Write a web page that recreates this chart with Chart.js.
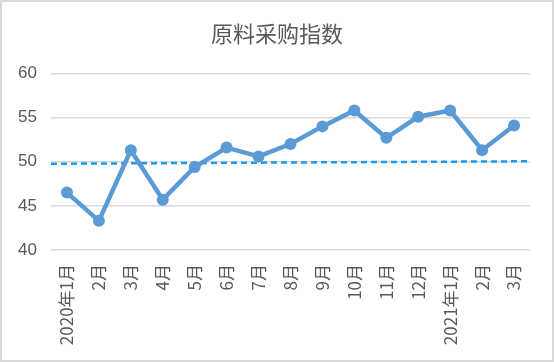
<!DOCTYPE html>
<html><head><meta charset="utf-8">
<script src="https://cdn.jsdelivr.net/npm/chart.js@4"></script>
<style>html,body{margin:0;padding:0;background:#fff}#wrap{width:554px;height:362px;position:relative}</style>
</head><body><div id="wrap"><canvas id="c" width="554" height="362"></canvas></div>
<script>
const categories = ['2020年1月','2月','3月','4月','5月','6月','7月','8月','9月','10月','11月','12月','2021年1月','2月','3月'];
const purchaseIndex = [46.5, 43.3, 51.3, 45.7, 49.4, 51.6, 50.6, 52.0, 54.0, 55.8, 52.7, 55.1, 55.8, 51.3, 54.1];
const trendStart = 49.77;
const trendEnd = 50.05;
const yTicks = [40, 45, 50, 55, 60];

const borderPlugin = {
  id: 'frame',
  afterDraw(chart) {
    const ctx = chart.ctx;
    ctx.save();
    ctx.strokeStyle = '#d9d9d9';
    ctx.lineWidth = 2;
    ctx.strokeRect(1, 1, chart.width - 2, chart.height - 2);
    ctx.restore();
  }
};

new Chart(document.getElementById('c'), {
  type: 'line',
  data: {
    labels: categories,
    datasets: [
      {
        label: '原料采购指数',
        data: purchaseIndex,
        borderColor: '#5b9bd5',
        backgroundColor: '#5b9bd5',
        borderWidth: 4.5,
        pointRadius: 6,
        pointBorderWidth: 0,
        tension: 0,
        order: 1
      },
      {
        label: 'trend',
        xAxisID: 'x2',
        data: [{x: -0.5, y: trendStart}, {x: categories.length - 0.5, y: trendEnd}],
        borderColor: '#1a9af0',
        borderWidth: 2.5,
        borderDash: [6, 4],
        pointRadius: 0,
        order: 2
      }
    ]
  },
  options: {
    responsive: false,
    animation: false,
    layout: {padding: {left: 0, right: 0, top: 0, bottom: 0}},
    plugins: {
      legend: {display: false},
      tooltip: {enabled: false},
      title: {
        display: true,
        text: '原料采购指数',
        color: '#595959',
        font: {family: '"Noto Sans CJK SC"', size: 22, weight: 'normal'},
        padding: {top: 20, bottom: 27}
      }
    },
    scales: {
      x: {
        type: 'category',
        offset: true,
        grid: {display: false},
        border: {display: false},
        ticks: {
          color: '#595959',
          font: {family: '"Noto Sans CJK SC"', size: 17},
          minRotation: 90, maxRotation: 90,
          autoSkip: false,
          padding: 6
        },
        afterFit(scale) { scale.height = 112; }
      },
      x2: {
        type: 'linear',
        display: false,
        min: -0.5,
        max: categories.length - 0.5
      },
      y: {
        min: 40, max: 60,
        afterBuildTicks(scale) { scale.ticks = yTicks.map(v => ({value: v})); },
        grid: {color: '#d9d9d9', lineWidth: 1.5, drawTicks: false},
        border: {display: false},
        ticks: {
          color: '#595959',
          font: {family: '"Liberation Sans", Arial', size: 17},
          padding: 14
        },
        afterFit(scale) { scale.width = 51; }
      },
      yRightSpace: {
        type: 'linear',
        position: 'right',
        display: true,
        min: 40, max: 60,
        grid: {display: false, drawTicks: false},
        border: {display: false},
        ticks: {display: false},
        afterFit(scale) { scale.width = 24; }
      }
    }
  },
  plugins: [borderPlugin]
});
</script></body></html>
